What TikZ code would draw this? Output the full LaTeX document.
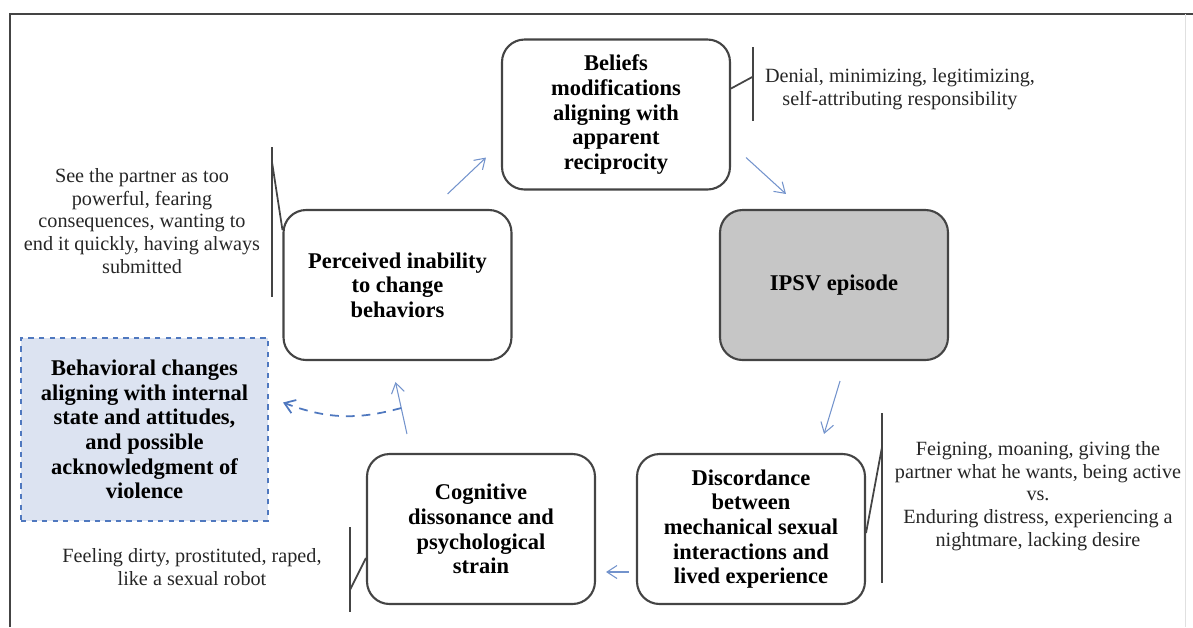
\documentclass[tikz,border=0pt]{standalone}
\usepackage{fontspec}
\setmainfont{LiberationSerif}[Extension=.ttf, UprightFont=*-Regular, BoldFont=*-Bold, ItalicFont=*-Italic, BoldItalicFont=*-BoldItalic]
\usetikzlibrary{arrows.meta, calc}

\definecolor{arrowblue}{HTML}{7393CC}
\definecolor{dashblue}{HTML}{4F78BF}
\definecolor{boxgray}{HTML}{C6C6C6}
\definecolor{boxblue}{HTML}{DCE3F1}
\definecolor{edgegray}{HTML}{444444}

\tikzset{
  stage/.style={draw=edgegray, line width=1.2pt, rounded corners=0.45cm, align=center,
    minimum width=4.56cm, minimum height=3cm, inner sep=2pt,
    font=\fontsize{12.8}{14}\selectfont\bfseries},
  note/.style={align=center, text=black!85, font=\fontsize{11.5}{13}\selectfont},
  brk/.style={edgegray, line width=1pt},
  flow/.style={arrowblue, line width=0.6pt, -{Straight Barb[length=2mm, width=2.6mm]}},
}

\begin{document}
\begin{tikzpicture}[x=0.02cm, y=-0.02cm]
  \useasboundingbox (0,0) rectangle (1193,627);
  \draw[line width=1.2pt, edgegray] (10,627) -- (10,14) -- (1193,14);
  \draw[black!12] (1185,14) -- (1185,627);

  % the cycle
  \node[stage] (beliefs) at (616,114.5) {Beliefs\\modifications\\aligning with\\apparent\\reciprocity};
  \node[stage, fill=boxgray] (ipsv) at (834,285) {IPSV episode};
  \node[stage] (disc) at (751,529) {Discordance\\between\\mechanical sexual\\interactions and\\lived experience};
  \node[stage] (cog) at (481,529) {Cognitive\\dissonance and\\psychological\\strain};
  \node[stage] (perc) at (397.5,285) {Perceived inability\\to change\\behaviors};
  \node[stage, rounded corners=0pt, draw=dashblue, dashed, fill=boxblue,
        minimum width=4.94cm, minimum height=3.66cm] (behav) at (144.5,429.5)
        {Behavioral changes\\aligning with internal\\state and attitudes,\\and possible\\acknowledgment of\\violence};

  \draw[flow] ($(perc.north east)+(-65,-15)$) -- ($(beliefs.south west)+(-15,-33)$);
  \draw[flow] ($(beliefs.south east)+(15,-33)$) -- ($(ipsv.north west)+(67,-15)$);
  \draw[flow] ($(ipsv.south)+(6,20)$) -- ($(disc.north east)+(-42,-19)$);
  \draw[flow] ($(disc.west)+(-7,43)$) -- ($(cog.east)+(10,43)$);
  \draw[flow] ($(cog.north west)+(41,-19)$) -- coordinate[pos=0.5] (fork) ($(perc.south)+(-2,21)$);
  \draw[dashblue, line width=1pt, dash pattern=on 5pt off 4pt, -{Straight Barb[length=2mm, width=2.8mm]}]
    (fork) to[bend left=18] ($(behav.east)+(14,-27)$);

  % notes
  \node[note] (nbel) at (900,89) {Denial, minimizing, legitimizing,\\self-attributing responsibility};
  \coordinate (belt) at (753,47);
  \coordinate (belb) at (753,121);
  \draw[brk] (belt) -- (belb);
  \draw[brk] ($(beliefs.east)+(0,-26)$) -- ($(belt)!0.4!(belb)$);

  \node[note] (nperc) at (142,221) {See the partner as too\\powerful, fearing\\consequences, wanting to\\end it quickly, having always\\submitted};
  \coordinate (pert) at (272,147);
  \coordinate (perb) at (272,297);
  \draw[brk] (pert) -- (perb);
  \draw[brk] ($(pert)!0.1!(perb)$) -- ($(perc.west)+(0,-55)$);

  \node[note] (ncog) at (192,567) {Feeling dirty, prostituted, raped,\\like a sexual robot};
  \coordinate (cogt) at (350,527);
  \coordinate (cogb) at (350,612);
  \draw[brk] (cogt) -- (cogb);
  \draw[brk] ($(cogt)!0.74!(cogb)$) -- ($(cog.west)+(0,29)$);

  \node[note] (ndisc) at (1038,496) {Feigning, moaning, giving the\\partner what he wants, being active\\vs.\\Enduring distress, experiencing a\\nightmare, lacking desire};
  \coordinate (dist) at (882,413);
  \coordinate (disb) at (882,583);
  \draw[brk] (dist) -- (disb);
  \draw[brk] ($(disc.east)+(0,4)$) -- ($(dist)!0.2!(disb)$);
\end{tikzpicture}
\end{document}
